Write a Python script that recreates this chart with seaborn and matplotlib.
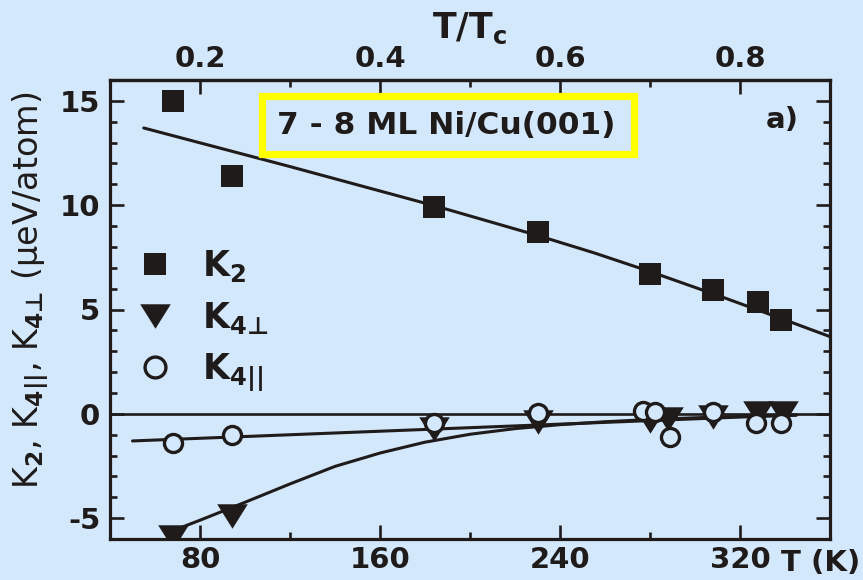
import matplotlib
matplotlib.use("Agg")
import matplotlib.pyplot as plt
from matplotlib.lines import Line2D
from matplotlib.patches import Rectangle
from matplotlib.ticker import MultipleLocator, FixedLocator
import seaborn as sns

# Measured anisotropy constants (μeV/atom) vs temperature (K)
T_K2 = [68, 94, 184, 230, 280, 308, 328, 338]
K2 = [15.0, 11.4, 9.9, 8.7, 6.7, 5.95, 5.35, 4.5]

T_K4perp = [68, 94, 184, 230, 280, 288, 308, 328, 339]
K4perp = [-5.9, -4.9, -0.75, -0.4, -0.35, -0.25, -0.15, 0.05, 0.05]

T_K4par = [68, 94, 184, 230, 277, 282, 289, 308, 327, 338]
K4par = [-1.4, -1.0, -0.42, 0.05, 0.15, 0.1, -1.1, 0.1, -0.45, -0.43]

# Fit curves
T_fit_K2 = [55, 120, 185, 230, 255, 280, 310, 338, 360]
fit_K2 = [13.7, 11.85, 9.95, 8.55, 7.72, 6.82, 5.68, 4.58, 3.7]

T_fit_K4perp = [68, 80, 100, 120, 140, 160, 180, 200, 220, 240, 260, 280, 300, 320, 345]
fit_K4perp = [-5.6, -5.1, -4.24, -3.36, -2.52, -1.88, -1.36, -0.98, -0.71, -0.52,
              -0.38, -0.27, -0.19, -0.13, -0.07]

T_fit_K4par = [50, 345]
fit_K4par = [-1.3, -0.05]

TC = 400.0
x_major = [80, 160, 240, 320]
top_major = [0.2, 0.4, 0.6, 0.8]

BG = "#d4e8fb"
INK = "#1f1b1b"
FONT = "DejaVu Sans"

sns.set_theme(style="ticks")
plt.rcParams["font.family"] = [FONT]
plt.rcParams["font.weight"] = "bold"
plt.rcParams["axes.unicode_minus"] = False
plt.rcParams["mathtext.fontset"] = "custom"
plt.rcParams["mathtext.rm"] = f"{FONT}:bold"
plt.rcParams["mathtext.it"] = f"{FONT}:bold"
plt.rcParams["mathtext.bf"] = f"{FONT}:bold"
plt.rcParams["mathtext.sf"] = FONT
plt.rcParams["mathtext.fallback"] = "stixsans"
plt.rcParams["mathtext.default"] = "rm"

fig = plt.figure(figsize=(8.63, 5.80), dpi=100, facecolor=BG)
W, H = 863.0, 580.0
ax = fig.add_axes([110 / W, 41 / H, 720 / W, 459 / H])
ax.set_facecolor(BG)

# fit lines and zero line
ax.axhline(0, color=INK, lw=1.9, zorder=2)
sns.lineplot(x=T_fit_K2, y=fit_K2, ax=ax, color=INK, lw=2.2, estimator=None, sort=False, zorder=3)
sns.lineplot(x=T_fit_K4perp, y=fit_K4perp, ax=ax, color=INK, lw=2.2, estimator=None, sort=False, zorder=3)
sns.lineplot(x=T_fit_K4par, y=fit_K4par, ax=ax, color=INK, lw=2.2, estimator=None, sort=False, zorder=3)

tri = [(-1.0, 0.8), (1.0, 0.8), (0.0, -0.8)]
sq_ms, tri_ms, circ_ms = 15.5, 22.0, 13.0

sns.scatterplot(x=T_K2, y=K2, ax=ax, marker="s", s=sq_ms ** 2, color=INK,
                edgecolor=INK, linewidth=0, zorder=4)
sns.scatterplot(x=T_K4perp, y=K4perp, ax=ax, marker=tri, s=tri_ms ** 2, color=INK,
                edgecolor=INK, linewidth=0, zorder=5)
sns.scatterplot(x=T_K4par, y=K4par, ax=ax, marker="o", s=circ_ms ** 2, color=BG,
                edgecolor=INK, linewidth=2.4, zorder=6)

ax.set_xlim(40, 360)
ax.set_ylim(-6, 16)

ax.xaxis.set_major_locator(FixedLocator(x_major))
ax.xaxis.set_minor_locator(MultipleLocator(40))
ax.yaxis.set_major_locator(MultipleLocator(5))
ax.yaxis.set_minor_locator(MultipleLocator(1))

for s in ax.spines.values():
    s.set_linewidth(2.3)
    s.set_color(INK)

ax.tick_params(which="both", direction="in", top=False, right=True, color=INK,
               width=1.9, labelsize=21, labelcolor=INK)
ax.tick_params(which="major", length=10)
ax.tick_params(which="minor", length=5)
ax.tick_params(axis="x", pad=5)
ax.tick_params(axis="y", pad=7)

# reduced-temperature axis on top
sec = ax.secondary_xaxis("top", functions=(lambda t: t / TC, lambda r: r * TC))
sec.xaxis.set_major_locator(FixedLocator(top_major))
sec.xaxis.set_minor_locator(MultipleLocator(0.1))
sec.spines["top"].set_linewidth(2.3)
sec.tick_params(which="both", direction="in", color=INK, width=1.9,
                labelsize=21, labelcolor=INK, pad=5)
sec.tick_params(which="major", length=10)
sec.tick_params(which="minor", length=5)
sec.set_xticklabels([f"{v:.1f}" for v in top_major])

fig.text(470 / W, 1 - 28 / H, "T/T$_\\mathrm{c}$", ha="center", va="center",
         fontsize=25, color=INK)
fig.text(781 / W, 1 - 563 / H, "T (K)", ha="left", va="center", fontsize=21, color=INK)

PERP = "\u22a5"  # up tack
ax.set_xlabel("")
ax.set_ylabel(f"K$_2$, K$_{{4||}}$, K$_{{4{PERP}}}$ (μeV/atom)", fontsize=24, color=INK)
ax.yaxis.set_label_coords((51 - 110) / 720, (539 - 290) / 459)

# sample label in a yellow frame
ax.add_patch(Rectangle(((261.5 - 110) / 720, (539 - 153.5) / 459),
                       372 / 720, 58 / 459, transform=ax.transAxes, fill=False,
                       ec="#ffff00", lw=5.2, zorder=7, clip_on=False))
ax.text((446 - 110) / 720, (539 - 125) / 459, "7 - 8 ML Ni/Cu(001)",
        transform=ax.transAxes, ha="center", va="center", fontsize=22.5, color=INK, zorder=7)
ax.text((782 - 110) / 720, (539 - 120) / 459, "a)", transform=ax.transAxes,
        ha="center", va="center", fontsize=21, color=INK)

handles = [
    Line2D([], [], ls="none", marker="s", ms=sq_ms, color=INK, mec=INK, mew=0),
    Line2D([], [], ls="none", marker=tri, ms=tri_ms, color=INK, mec=INK, mew=0),
    Line2D([], [], ls="none", marker="o", ms=15, mfc=BG, mec=INK, mew=2.4),
]
labels = ["K$_2$", f"K$_{{4{PERP}}}$", "K$_{4||}$"]
ax.legend(handles, labels, loc="upper left", bbox_to_anchor=(0.0385, 0.633),
          frameon=False, fontsize=25, handlelength=1.0, handletextpad=0.85,
          labelspacing=0.44, borderaxespad=0, borderpad=0, labelcolor=INK)

fig.savefig("out.png", dpi=100, facecolor=BG)
